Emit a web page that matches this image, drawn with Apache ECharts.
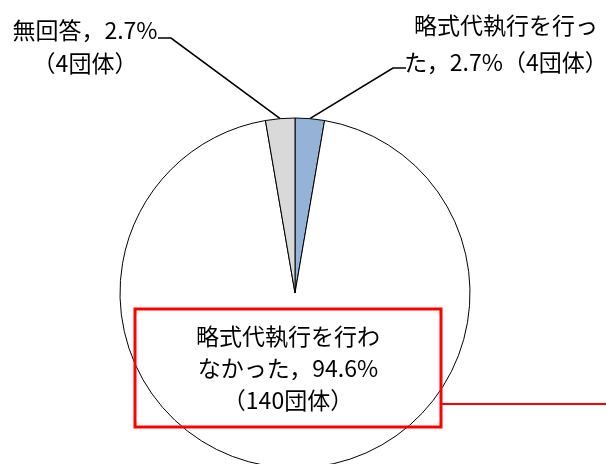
<!DOCTYPE html>
<html>
<head>
<meta charset="utf-8">
<script src="https://cdn.jsdelivr.net/npm/echarts@6/dist/echarts.min.js"></script>
<style>
  html, body { margin: 0; padding: 0; background: #fff; }
  #chart { width: 606px; height: 464px; }
</style>
</head>
<body>
<div id="chart"></div>
<script>
// 回答区分と団体数
var names = ['略式代執行を行った', '略式代執行を行わなかった', '無回答'];
var counts = [4, 140, 4];
var percents = [2.7, 94.6, 2.7];
var colors = ['#95B3D7', '#FFFFFF', '#D9D9D9'];
var parenNewLine = [false, true, true]; // （n団体）を改行するか

// 円の位置と大きさ
var CX = 295, CY = 293, R = 175;
var total = counts.reduce(function(a, b) { return a + b; }, 0);

// ラベルの置き場所
var labelPos = [[506, 44], [288, 368], [85, 47]];
var elbows = [[[393, 68], [406, 68]], null, [[171, 38], [158, 38]]];

var makeLabel = function(i) {
  var name = names[i];
  if (name.length > 8) name = name.slice(0, 8) + '\n' + name.slice(8);
  var txt = name + '，' + percents[i].toFixed(1) + '%';
  txt += (parenNewLine[i] ? '\n' : '') + '（' + counts[i] + '団体）';
  return txt;
};

// スライス中央の外周点
var edgePoint = function(i) {
  var before = 0;
  for (var k = 0; k < i; k++) before += counts[k];
  var t = (before + counts[i] / 2) / total * Math.PI * 2;
  return [CX + R * Math.sin(t), CY - R * Math.cos(t)];
};

var lineHeights = [37, 32, 33];

var data = names.map(function(n, i) {
  var item = {
    name: n,
    value: counts[i],
    itemStyle: { color: colors[i] },
    label: { lineHeight: lineHeights[i] }
  };
  if (i === 1) {
    item.label = {
      lineHeight: 32,
      width: 306,
      padding: [11, 0],
      borderColor: '#FF0000',
      borderWidth: 3
    };
    item.labelLine = { show: false };
  }
  return item;
});

var chart = echarts.init(document.getElementById('chart'));
chart.setOption({
  animation: false,
  backgroundColor: '#fff',
  series: [{
    type: 'pie',
    center: [CX, CY],
    radius: R,
    startAngle: 90,
    clockwise: true,
    avoidLabelOverlap: false,
    silent: true,
    data: data,
    itemStyle: { borderColor: '#000', borderWidth: 1 },
    label: {
      show: true,
      color: '#000',
      fontSize: 23,
      fontFamily: '"Noto Sans CJK JP", sans-serif',
      align: 'center',
      overflow: 'none',
      formatter: function(p) { return makeLabel(p.dataIndex); }
    },
    labelLine: {
      show: true,
      lineStyle: { color: '#000', width: 1.6 }
    },
    labelLayout: function(p) {
      var i = p.dataIndex;
      var res = { x: labelPos[i][0], y: labelPos[i][1], align: 'center', verticalAlign: 'middle' };
      if (elbows[i]) res.labelLinePoints = [edgePoint(i)].concat(elbows[i]);
      return res;
    }
  }],
  graphic: [{
    type: 'line',
    shape: { x1: 442, y1: 404, x2: 606, y2: 404 },
    style: { stroke: '#FF0000', lineWidth: 2 }
  }]
});
</script>
</body>
</html>
